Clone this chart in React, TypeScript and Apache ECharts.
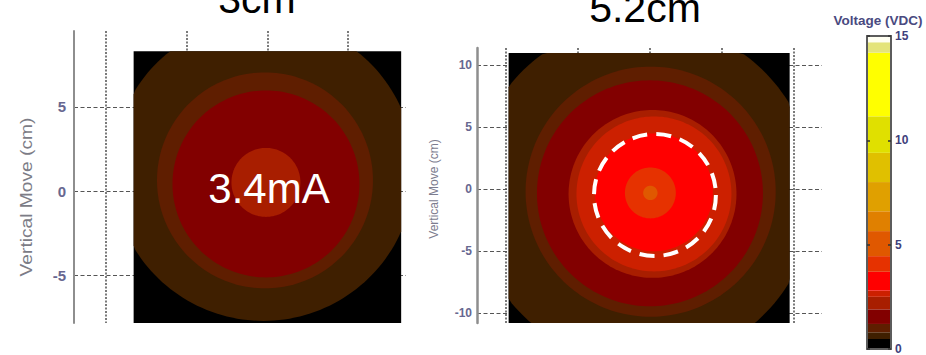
import React, { useEffect, useRef } from "react";
import * as echarts from "echarts";

// ---- colour scale (Voltage, VDC) ----
const colorBounds = [0, 0.48, 0.8, 1.2, 1.9, 2.5, 2.8, 3.7, 4.45, 5.65, 6.6, 8.0, 9.4, 11.15, 14.2, 14.7, 15];
const colorbarColors = [
  "#000000", "#3f1f00", "#5f1e00", "#820000", "#a81e00", "#cc2000", "#ff0000", "#e63200",
  "#e05800", "#e08000", "#e0a000", "#e0c000", "#e0e000", "#ffff00", "#e4e47a", "#fffff2",
];
const colorbarTitle = "Voltage (VDC)";

// ---- left map: 3cm, 3.4mA ----
const leftTitle = "3cm";
const leftNote = "3.4mA";
const leftXRange = [-12, 8.6];
const leftYRange = [-7.8, 9.5];
const leftField = [-8.3, 8.3, -8.3, 8.3]; // xmin, xmax, ymin, ymax
const leftBaseLevel = 0.2;
const leftRingX = [-0.25, -0.15, -0.09, -0.09];
const leftRingY = [1.27, 0.65, 0.44, 0.53];
const leftRingR = [9.37, 6.7, 5.8, 2.14];
const leftRingLevel = [0.6, 1.0, 1.5, 2.2];

// ---- right map: 5.2cm ----
const rightTitle = "5.2cm";
const rightXRange = [-12, 12];
const rightYRange = [-10.8, 11.4];
const rightField = [-9.8, 9.75, -11, 11];
const rightBaseLevel = 0.2;
const rightRingX = [-0.45, 0.08, 0.03, 0.21, 0.31, 0.31, 0.06, 0.06];
const rightRingY = [-0.3, -0.2, -0.33, -0.38, -0.38, -0.25, -0.3, -0.3];
const rightRingR = [11.93, 8.7, 7.86, 5.84, 5.39, 4.1, 1.77, 0.5];
const rightRingLevel = [0.6, 1.0, 1.5, 2.2, 2.6, 3.2, 4.0, 5.0];
const rightDashedCircle = [0.38, -0.47, 4.24]; // cx, cy, r

const axisName = "Vertical Move (cm)";

function levelColor(v: number): string {
  for (let i = 0; i < colorbarColors.length; i++) {
    if (v >= colorBounds[i] && v < colorBounds[i + 1]) return colorbarColors[i];
  }
  return colorbarColors[colorbarColors.length - 1];
}

function rectRenderer(field: number[]) {
  return (params: any, api: any) => {
    const tl = api.coord([field[0], field[3]]);
    const br = api.coord([field[1], field[2]]);
    return {
      type: "rect",
      shape: { x: tl[0], y: tl[1], width: br[0] - tl[0], height: br[1] - tl[1] },
      style: { fill: levelColor(api.value(0)) },
    };
  };
}

function ringRenderer(field: number[]) {
  return (params: any, api: any) => {
    const c = api.coord([api.value(0), api.value(1)]);
    const rp = api.size([api.value(2), 0])[0];
    const tl = api.coord([field[0], field[3]]);
    const br = api.coord([field[1], field[2]]);
    const pts: number[][] = [];
    const N = 180;
    for (let i = 0; i < N; i++) {
      const a = (i / N) * Math.PI * 2;
      const px = Math.min(Math.max(c[0] + rp * Math.cos(a), tl[0]), br[0]);
      const py = Math.min(Math.max(c[1] + rp * Math.sin(a), tl[1]), br[1]);
      pts.push([px, py]);
    }
    return {
      type: "polygon",
      shape: { points: pts },
      style: { fill: levelColor(api.value(3)) },
    };
  };
}

const FONT = "Liberation Sans, Arial, sans-serif";

function plotAxes(gridIndex: number, xr: number[], yr: number[], labelSize: number, labelMargin: number, axisWidth: number) {
  const x = {
    type: "value",
    gridIndex,
    min: xr[0],
    max: xr[1],
    minInterval: 5,
    maxInterval: 5,
    axisLine: { show: false, onZero: false },
    axisTick: { show: false },
    axisLabel: { show: false },
    splitLine: {
      show: true,
      showMinLine: false,
      showMaxLine: false,
      lineStyle: { color: "#4f4f4f", width: 1.5, type: [2, 1.5] },
    },
  };
  const y = {
    type: "value",
    gridIndex,
    min: yr[0],
    max: yr[1],
    minInterval: 5,
    maxInterval: 5,
    axisLine: { show: true, onZero: false, lineStyle: { color: "#8e8e8e", width: axisWidth } },
    axisTick: { show: false },
    axisLabel: {
      show: true,
      showMinLabel: false,
      showMaxLabel: false,
      margin: labelMargin,
      color: "#676790",
      fontSize: labelSize,
      fontWeight: "bold",
      fontFamily: FONT,
    },
    splitLine: {
      show: true,
      showMinLine: false,
      showMaxLine: false,
      lineStyle: { color: "#555555", width: 1.2, type: [4, 2.5] },
    },
  };
  return { x, y };
}

export default function App() {
  const ref = useRef<HTMLDivElement>(null);
  useEffect(() => {
    if (!ref.current) return;
    const chart = echarts.init(ref.current, undefined, { renderer: "svg" });

    const L = plotAxes(0, leftXRange, leftYRange, 15, 8, 2);
    const R = plotAxes(1, rightXRange, rightYRange, 12, 5, 2.5);

    const cbX = (pos: string) => ({
      type: "value",
      gridIndex: 2,
      min: 0,
      max: 1,
      position: pos,
      z: 10,
      axisLine: { show: true, onZero: false, lineStyle: { color: "#5c5c5c", width: 2 } },
      axisTick: { show: false },
      axisLabel: { show: false },
      splitLine: { show: false },
    });
    const cbY = (pos: string, labels: boolean) => ({
      type: "value",
      gridIndex: 2,
      min: 0,
      max: 15,
      minInterval: 5,
      maxInterval: 5,
      position: pos,
      z: 10,
      axisLine: { show: true, onZero: false, lineStyle: { color: "#5c5c5c", width: 2 } },
      axisTick: { show: true, inside: true, length: 3, lineStyle: { color: "#333", width: 1.5 } },
      axisLabel: {
        show: labels,
        margin: 4,
        color: "#40407c",
        fontSize: 12,
        fontWeight: "bold",
        fontFamily: FONT,
      },
      splitLine: { show: false },
    });

    const leftRings = leftRingR.map((r, i) => [leftRingX[i], leftRingY[i], r, leftRingLevel[i]]);
    const rightRings = rightRingR.map((r, i) => [rightRingX[i], rightRingY[i], r, rightRingLevel[i]]);
    const cbData = colorbarColors.map((_, i) => [colorBounds[i], colorBounds[i + 1], i]);

    chart.setOption({
      animation: false,
      backgroundColor: "#ffffff",
      grid: [
        { left: 74, top: 31, width: 332, height: 292 },
        { left: 477, top: 48, width: 345, height: 275 },
        { left: 867, top: 36, width: 24, height: 314 },
      ],
      xAxis: [L.x, R.x, cbX("bottom"), cbX("top")],
      yAxis: [L.y, R.y, cbY("right", true), cbY("left", false)],
      series: [
        {
          type: "custom",
          xAxisIndex: 0,
          yAxisIndex: 0,
          clip: true,
          renderItem: rectRenderer(leftField),
          data: [[leftBaseLevel, 0]],
        },
        {
          type: "custom",
          xAxisIndex: 0,
          yAxisIndex: 0,
          clip: true,
          renderItem: ringRenderer(leftField),
          data: leftRings,
        },
        {
          type: "custom",
          xAxisIndex: 1,
          yAxisIndex: 1,
          clip: true,
          renderItem: rectRenderer(rightField),
          data: [[rightBaseLevel, 0]],
        },
        {
          type: "custom",
          xAxisIndex: 1,
          yAxisIndex: 1,
          clip: true,
          renderItem: ringRenderer(rightField),
          data: rightRings,
        },
        {
          type: "custom",
          xAxisIndex: 1,
          yAxisIndex: 1,
          clip: true,
          z: 5,
          renderItem: (params: any, api: any) => {
            const c = api.coord([api.value(0), api.value(1)]);
            const rp = api.size([api.value(2), 0])[0];
            return {
              type: "circle",
              shape: { cx: c[0], cy: c[1], r: rp },
              style: { fill: "none", stroke: "#ffffff", lineWidth: 4, lineDash: [15, 9] },
            };
          },
          data: [rightDashedCircle],
        },
        {
          type: "custom",
          xAxisIndex: 2,
          yAxisIndex: 2,
          renderItem: (params: any, api: any) => {
            const a = api.coord([0, api.value(1)]);
            const b = api.coord([1, api.value(0)]);
            return {
              type: "rect",
              shape: { x: a[0], y: a[1], width: b[0] - a[0], height: b[1] - a[1] },
              style: { fill: colorbarColors[api.value(2)] },
            };
          },
          data: cbData,
        },
      ],
      graphic: [
        {
          type: "text",
          x: 257,
          y: -1,
          style: { text: leftTitle, font: `41px ${FONT}`, fill: "#000", align: "center", verticalAlign: "middle" },
        },
        {
          type: "text",
          x: 645,
          y: 8,
          style: { text: rightTitle, font: `41px ${FONT}`, fill: "#000", align: "center", verticalAlign: "middle" },
        },
        {
          type: "text",
          x: 269,
          y: 188,
          z: 100,
          style: { text: leftNote, font: `42px ${FONT}`, fill: "#ffffff", align: "center", verticalAlign: "middle" },
        },
        {
          type: "text",
          x: 27,
          y: 197,
          rotation: Math.PI / 2,
          scaleX: 1.2,
          style: { text: axisName, font: `16px ${FONT}`, fill: "#7c7c86", align: "center", verticalAlign: "middle" },
        },
        {
          type: "text",
          x: 434,
          y: 189,
          rotation: Math.PI / 2,
          style: { text: axisName, font: `12px ${FONT}`, fill: "#7c7c8e", align: "center", verticalAlign: "middle" },
        },
        {
          type: "text",
          x: 878,
          y: 21,
          scaleX: 1.08,
          style: {
            text: colorbarTitle,
            font: `bold 12.5px ${FONT}`,
            fill: "#4a4a80",
            align: "center",
            verticalAlign: "middle",
          },
        },
      ],
    });
    return () => chart.dispose();
  }, []);
  return (
    <div
      ref={ref}
      style={{ position: "fixed", left: 0, top: 0, width: 926, height: 355, background: "#fff" }}
    />
  );
}
